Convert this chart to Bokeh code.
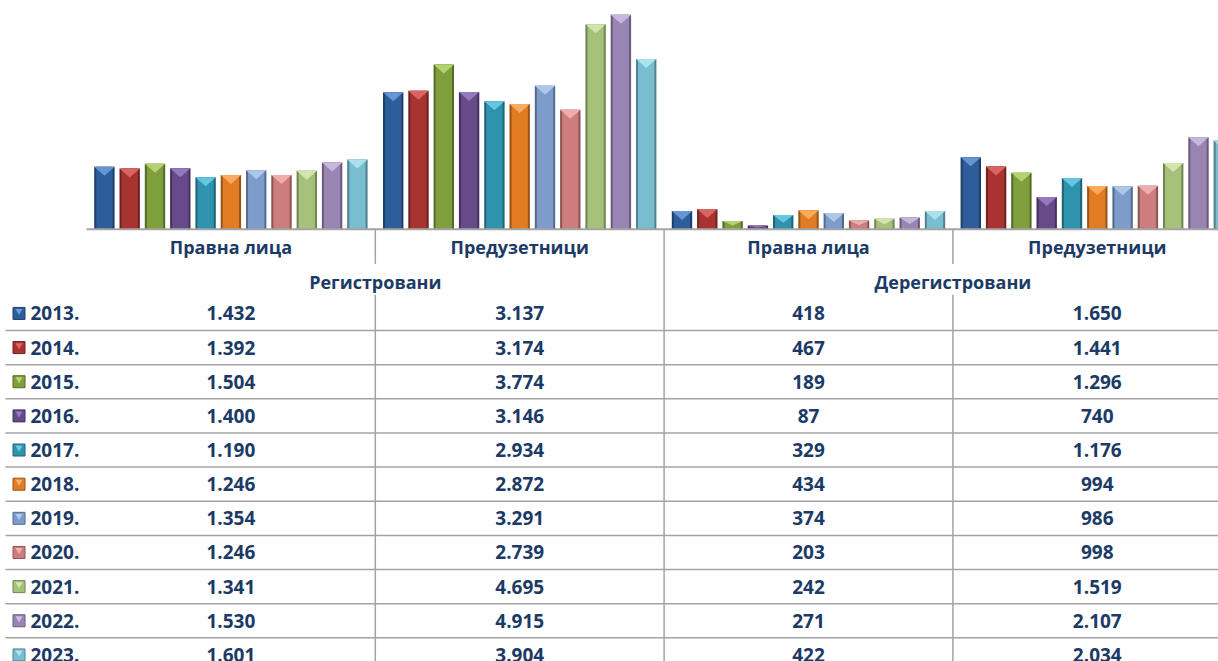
from bokeh.plotting import figure
from bokeh.models import Range1d, ColumnDataSource
from bokeh.embed import file_html
from bokeh.resources import INLINE
from bokeh.core.properties import value

# ---------------- data ----------------
years = [2013, 2014, 2015, 2016, 2017, 2018, 2019, 2020, 2021, 2022, 2023]
groups = ["Регистровани", "Дерегистровани"]
categories = ["Правна лица", "Предузетници", "Правна лица", "Предузетници"]
reg_legal = [1432, 1392, 1504, 1400, 1190, 1246, 1354, 1246, 1341, 1530, 1601]
reg_entre = [3137, 3174, 3774, 3146, 2934, 2872, 3291, 2739, 4695, 4915, 3904]
dereg_legal = [418, 467, 189, 87, 329, 434, 374, 203, 242, 271, 422]
dereg_entre = [1650, 1441, 1296, 740, 1176, 994, 986, 998, 1519, 2107, 2034]
series = [reg_legal, reg_entre, dereg_legal, dereg_entre]

# ---------------- styles ----------------
main_c = ["#2E5D9B", "#A93331", "#7F9E3C", "#664A8A", "#2F93AE", "#E27C24",
          "#7D9CCB", "#CD7D7B", "#A6C17A", "#9985B4", "#79BDD1"]
light_c = ["#6C9BDA", "#DE6A67", "#B8D674", "#9A7DC2", "#6ACCE6", "#FBB066",
           "#B3CCEE", "#F1B3B1", "#D6E9B1", "#CCBCE2", "#B0E4F2"]
edge_c = ["#1F3F6B", "#732222", "#566B28", "#45325E", "#1F6477", "#9A5418",
          "#566B8C", "#8D5554", "#728554", "#695B7C", "#53828F"]
TXT = "#1B3A66"
GRID = "#A3A3A3"
FONT = value("Open Sans")

W, H = 1218, 661
CAT_PX = 288.8          # pixel width of one category
AXIS_LEFT = 86.0        # px from figure left to first category
BASE_PX = 228.8         # px from figure top to baseline
VAL_PX = 0.04365        # px per unit of value
ROW_PX = 34.15          # table row height
ROW0_PX = 227.55        # px from figure top to table row origin

x0 = -AXIS_LEFT / CAT_PX
x1 = (W - AXIS_LEFT) / CAT_PX

p = figure(width=W, height=H, output_backend="svg", toolbar_location=None,
           x_range=Range1d(x0, x1),
           y_range=Range1d(-(H - BASE_PX) / VAL_PX, BASE_PX / VAL_PX),
           x_axis_location=None, y_axis_location=None, min_border=0,
           outline_line_color=None, background_fill_color="white")
p.grid.visible = False
p.extra_y_ranges = {"tbl": Range1d(start=(H - ROW0_PX) / ROW_PX, end=-ROW0_PX / ROW_PX)}

n = len(years)
pitch = 25.3 / CAT_PX
bw = 20.4 / CAT_PX
tri_units = 9.0 / VAL_PX

# ---------------- bars ----------------
for j in range(n):
    xs, tops = [], []
    for i, s in enumerate(series):
        xs.append(i + 0.5 + (j - (n - 1) / 2) * pitch)
        tops.append(s[j])
    src = ColumnDataSource(dict(x=xs, top=tops))
    p.vbar(x="x", top="top", bottom=0, width=bw, source=src,
           fill_color=edge_c[j], line_color=None)
    p.vbar(x="x", top="top", bottom=0, width=bw * 0.8, source=src,
           fill_color=main_c[j], line_color=None)
    txs, tys = [], []
    for x, v in zip(xs, tops):
        th = min(tri_units, 0.55 * v)
        txs.append([x - bw / 2, x + bw / 2, x])
        tys.append([v, v, v - th])
    p.patches(txs, tys, fill_color=light_c[j], line_color=None, fill_alpha=0.9)

# baseline
p.segment(x0=[0], y0=[0], x1=[len(categories) + 1], y1=[0], line_color=GRID, line_width=2)

# ---------------- table ----------------
# vertical separators
for i in range(1, len(categories) + 1):
    if i % 2 == 0:
        p.segment(x0=[i], x1=[i], y0=[0.04], y1=[n + 3], line_color=GRID,
                  line_width=1.5, y_range_name="tbl")
    else:
        p.segment(x0=[i, i], x1=[i, i], y0=[0.04, 1.95], y1=[1.05, n + 3],
                  line_color=GRID, line_width=1.5, y_range_name="tbl")
# horizontal separators between data rows
hy = [3 + k for k in range(n - 1)]
p.segment(x0=[x0 + 5 / CAT_PX] * len(hy), x1=[x1] * len(hy), y0=hy, y1=hy,
          line_color=GRID, line_width=1.5, y_range_name="tbl")

# category labels
p.text(x=[i + 0.5 for i in range(len(categories))], y=[0.56] * len(categories),
       text=categories, text_font=FONT, text_font_style="bold",
       text_font_size="18px", text_color=TXT, text_align="center",
       text_baseline="middle", y_range_name="tbl")
# group labels
p.text(x=[2 * g + 1 for g in range(len(groups))], y=[1.58] * len(groups),
       text=groups, text_font=FONT, text_font_style="bold",
       text_font_size="18px", text_color=TXT, text_align="center",
       text_baseline="middle", y_range_name="tbl")

# values
vx, vy, vt = [], [], []
for i, s in enumerate(series):
    for j, v in enumerate(s):
        vx.append(i + 0.5)
        vy.append(2.5 + j)
        vt.append(f"{v:,}".replace(",", "."))
p.text(x=vx, y=vy, text=vt, text_font=FONT, text_font_style="bold",
       text_font_size="19px", text_color=TXT, text_align="center",
       text_baseline="middle", y_range_name="tbl")

# legend keys and years
key_x = x0 + 18.5 / CAT_PX
yr_x = x0 + 30.0 / CAT_PX
ry = [2.5 + j for j in range(n)]
p.rect(x=[key_x] * n, y=ry, width=12, height=12, width_units="screen",
       height_units="screen", fill_color=main_c, line_color=edge_c,
       line_width=1, y_range_name="tbl")
p.scatter(x=[key_x] * n, y=[t - 0.07 for t in ry], marker="inverted_triangle",
          size=7, fill_color=light_c, line_color=None, y_range_name="tbl")
p.text(x=[yr_x] * n, y=ry, text=[f"{y}." for y in years], text_font=FONT,
       text_font_style="bold", text_font_size="19px", text_color=TXT,
       text_align="left", text_baseline="middle", y_range_name="tbl")

open("out.html", "w").write(file_html(p, INLINE))
